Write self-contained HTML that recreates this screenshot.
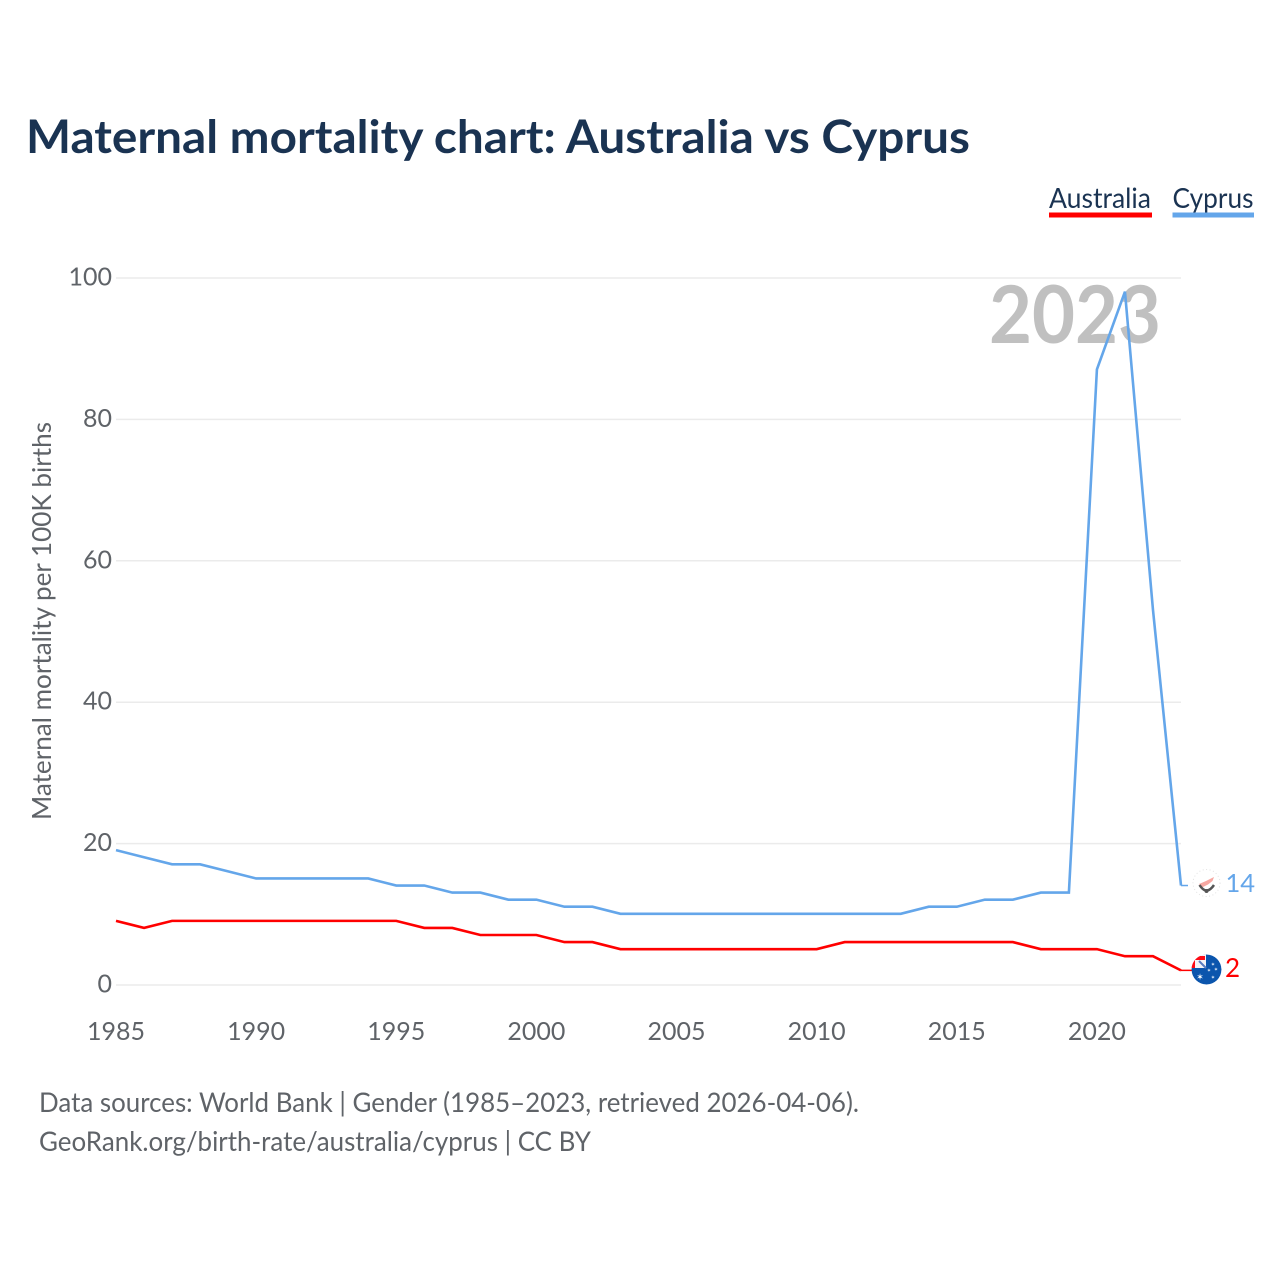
<!DOCTYPE html>
<html lang="en">
<head>
<meta charset="utf-8">
<title>Maternal mortality chart: Australia vs Cyprus</title>
<style>
html,body{margin:0;padding:0;background:#fff;width:1280px;height:1280px;overflow:hidden}
svg{display:block}
text{font-family:Lato,Carlito,"Liberation Sans",sans-serif}
</style>
</head>
<body>
<svg id="chart" width="1280" height="1280" viewBox="0 0 1280 1280" xmlns="http://www.w3.org/2000/svg">
  <defs>
    <clipPath id="clip-au"><circle cx="1206.500" cy="969.500" r="15"/></clipPath>
  </defs>
  <text x="26" y="153" font-size="46" font-weight="700" fill="#1a3352" textLength="944" lengthAdjust="spacingAndGlyphs">Maternal mortality chart: Australia vs Cyprus</text>

  <g>
    <g>
      <text x="1049" y="208" font-size="28" fill="#1a3352" textLength="102" lengthAdjust="spacingAndGlyphs">Australia</text>
      <rect x="1049" y="212.500" width="103" height="5" fill="#ff0000"/>
    </g>
    <g>
      <text x="1172.500" y="208" font-size="28" fill="#1a3352" textLength="81" lengthAdjust="spacingAndGlyphs">Cyprus</text>
      <rect x="1172.500" y="212.500" width="81.500" height="5" fill="#64a6ea"/>
    </g>
  </g>

  <g id="grid"></g>
  <text x="1161" y="343" text-anchor="end" font-size="80" font-weight="700" fill="#c0c0c0" textLength="172" lengthAdjust="spacingAndGlyphs">2023</text>
  <g id="y-ticks"></g>
  <g id="x-ticks"></g>
  <text transform="translate(51 621) rotate(-90)" text-anchor="middle" font-size="26" fill="#5f6368" textLength="398" lengthAdjust="spacingAndGlyphs">Maternal mortality per 100K births</text>
  <g id="series" transform="translate(0 -0.5)"></g>

  <g>
    <circle cx="1206.500" cy="883" r="13.500" fill="#ffffff" stroke="#e2e2e2" stroke-width="1" stroke-dasharray="1 2.500"/>
    <path d="M1199 884 L1206 881 L1214 877 L1212.500 881 L1208 884.500 L1202 887.500 Z" fill="#f6a8a2"/>
    <path d="M1199.500 885 Q1206.500 896 1214 885" fill="none" stroke="#555555" stroke-width="2.500"/>
    <circle cx="1206.500" cy="891" r="2" fill="#555555"/>
  </g>
  <g clip-path="url(#clip-au)">
    <circle cx="1206.500" cy="969.500" r="15" fill="#0b55ad"/>
    <rect x="1191" y="954" width="15" height="14" fill="#f4f4f8"/>
    <path d="M1195 968 V960 H1205 V956 H1191 V968 Z" fill="#ff0a14"/>
    <path d="M1199 961 L1206 968" stroke="#5a7cc0" stroke-width="2"/>
    <text x="1200" y="980" font-size="9" fill="#ffffff" text-anchor="middle">✶</text>
    <text x="1213" y="966" font-size="5" fill="#ffffff" text-anchor="middle">✶</text>
    <text x="1216" y="971" font-size="5" fill="#ffffff" text-anchor="middle">✶</text>
    <text x="1209" y="972" font-size="5" fill="#ffffff" text-anchor="middle">✶</text>
    <text x="1213" y="979" font-size="5" fill="#ffffff" text-anchor="middle">✶</text>
  </g>
  <text id="end-cyprus" x="1225.500" y="892" font-size="25.500" fill="#64a6ea"></text>
  <text id="end-australia" x="1225" y="977" font-size="26" fill="#ff0000"></text>

  <text x="39" y="1112" font-size="27" fill="#5f6368" textLength="820" lengthAdjust="spacingAndGlyphs">Data sources: World Bank | Gender (1985–2023, retrieved 2026-04-06).</text>
  <text x="39" y="1151" font-size="27" fill="#5f6368" textLength="552" lengthAdjust="spacingAndGlyphs">GeoRank.org/birth-rate/australia/cyprus | CC BY</text>
</svg>
<script>
const years = [1985,1986,1987,1988,1989,1990,1991,1992,1993,1994,1995,1996,1997,1998,1999,2000,2001,2002,2003,2004,2005,2006,2007,2008,2009,2010,2011,2012,2013,2014,2015,2016,2017,2018,2019,2020,2021,2022,2023];
const cyprus = [19,18,17,17,16,15,15,15,15,15,14,14,13,13,12,12,11,11,10,10,10,10,10,10,10,10,10,10,10,11,11,12,12,13,13,87,98,53,14];
const australia = [9,8,9,9,9,9,9,9,9,9,9,8,8,7,7,7,6,6,5,5,5,5,5,5,5,5,6,6,6,6,6,6,6,5,5,5,4,4,2];
const yTickValues = [0,20,40,60,80,100];
const xTickValues = [1985,1990,1995,2000,2005,2010,2015,2020];

const NS = 'http://www.w3.org/2000/svg';
const xScale = function (year) { return 116 + (year - 1985) * (1181 - 116) / (2023 - 1985); };
const yScale = function (value) { return 985 - value * (985 - 278) / 100; };

const gridGroup = document.getElementById('grid');
const yTickGroup = document.getElementById('y-ticks');
const xTickGroup = document.getElementById('x-ticks');
const seriesGroup = document.getElementById('series');

yTickValues.forEach(function (v) {
  const line = document.createElementNS(NS, 'line');
  
  
  line.setAttribute('x1', 116);
  line.setAttribute('x2', 1181);
  line.setAttribute('y1', yScale(v));
  line.setAttribute('y2', yScale(v));
  line.setAttribute('stroke', '#ebebeb');
  line.setAttribute('stroke-width', '1.5');
  gridGroup.appendChild(line);

  const label = document.createElementNS(NS, 'text');
  
  
  label.setAttribute('x', 112);
  label.setAttribute('y', yScale(v) + 7.5);
  label.setAttribute('text-anchor', 'end');
  label.setAttribute('font-size', '25');
  label.setAttribute('fill', '#5f6368');
  label.textContent = v;
  yTickGroup.appendChild(label);
});

xTickValues.forEach(function (y) {
  const label = document.createElementNS(NS, 'text');
  
  
  label.setAttribute('x', xScale(y));
  label.setAttribute('y', 1040);
  label.setAttribute('text-anchor', 'middle');
  label.setAttribute('font-size', '25');
  label.setAttribute('fill', '#5f6368');
  label.textContent = y;
  xTickGroup.appendChild(label);
});

function linePoints(values) {
  return values.map(function (v, i) {
    return xScale(years[i]).toFixed(2) + ',' + yScale(v).toFixed(2);
  }).join(' ');
}

const cyprusLine = document.createElementNS(NS, 'polyline');


cyprusLine.setAttribute('points', linePoints(cyprus));
cyprusLine.setAttribute('fill', 'none');
cyprusLine.setAttribute('stroke', '#64a6ea');
cyprusLine.setAttribute('stroke-width', '2.6');
seriesGroup.appendChild(cyprusLine);

const australiaLine = document.createElementNS(NS, 'polyline');


australiaLine.setAttribute('points', linePoints(australia));
australiaLine.setAttribute('fill', 'none');
australiaLine.setAttribute('stroke', '#ff0000');
australiaLine.setAttribute('stroke-width', '2.6');
seriesGroup.appendChild(australiaLine);

const cyprusStub = document.createElementNS(NS, 'line');


cyprusStub.setAttribute('x1', xScale(2023));
cyprusStub.setAttribute('x2', xScale(2023) + 7);
cyprusStub.setAttribute('y1', yScale(cyprus[cyprus.length - 1]));
cyprusStub.setAttribute('y2', yScale(cyprus[cyprus.length - 1]));
cyprusStub.setAttribute('stroke', '#64a6ea');
cyprusStub.setAttribute('stroke-width', '1.5');
seriesGroup.appendChild(cyprusStub);

const australiaStub = document.createElementNS(NS, 'line');


australiaStub.setAttribute('x1', xScale(2023));
australiaStub.setAttribute('x2', xScale(2023) + 12);
australiaStub.setAttribute('y1', yScale(australia[australia.length - 1]));
australiaStub.setAttribute('y2', yScale(australia[australia.length - 1]));
australiaStub.setAttribute('stroke', '#ff0000');
australiaStub.setAttribute('stroke-width', '1.5');
seriesGroup.appendChild(australiaStub);

document.getElementById('end-cyprus').textContent = cyprus[cyprus.length - 1];
document.getElementById('end-australia').textContent = australia[australia.length - 1];
</script>
</body>
</html>
